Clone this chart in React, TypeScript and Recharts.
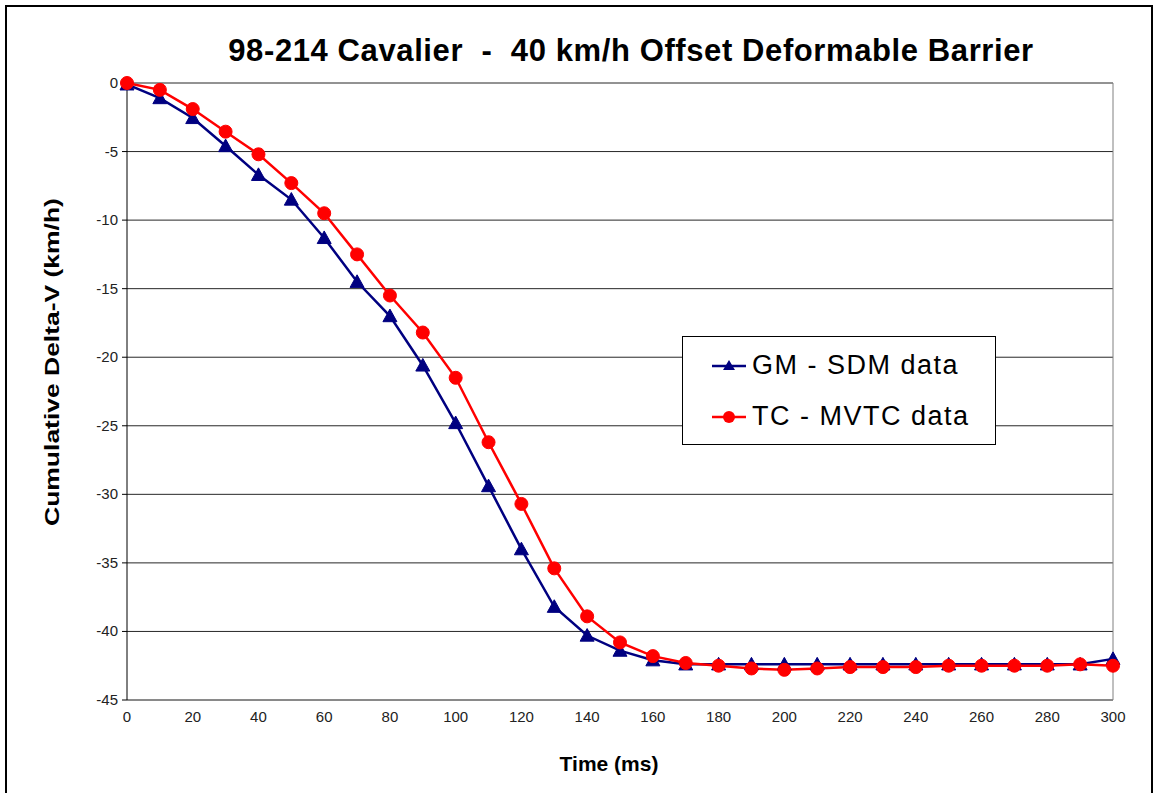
import React from 'react';
import { LineChart, Line, XAxis, YAxis, CartesianGrid, ReferenceLine } from 'recharts';

const times = [0,10,20,30,40,50,60,70,80,90,100,110,120,130,140,150,160,170,180,190,200,210,220,230,240,250,260,270,280,290,300];
const gmSdm = [-0.1,-1.1,-2.55,-4.6,-6.7,-8.5,-11.3,-14.5,-17.0,-20.6,-24.8,-29.4,-34.0,-38.2,-40.3,-41.4,-42.1,-42.4,-42.4,-42.4,-42.4,-42.4,-42.4,-42.4,-42.4,-42.4,-42.4,-42.4,-42.4,-42.4,-42.0];
const tcMvtc = [0,-0.5,-1.9,-3.55,-5.2,-7.3,-9.5,-12.5,-15.5,-18.2,-21.5,-26.2,-30.7,-35.4,-38.9,-40.8,-41.8,-42.3,-42.5,-42.7,-42.8,-42.7,-42.6,-42.6,-42.6,-42.5,-42.5,-42.5,-42.5,-42.4,-42.5];
const xTicks = [0,20,40,60,80,100,120,140,160,180,200,220,240,260,280,300];
const yTicks = [0,-5,-10,-15,-20,-25,-30,-35,-40,-45];

const data = times.map((t, i) => ({ t, gm: gmSdm[i], tc: tcMvtc[i] }));

const Triangle = (props: any) => {
  const { cx, cy } = props;
  if (cx == null || cy == null) return null;
  const s = 7;
  return <path d={`M${cx},${cy - s} L${cx + s},${cy + s * 0.8} L${cx - s},${cy + s * 0.8} Z`} fill="#000080" stroke="#000080" />;
};

const font = 'Arial, "Liberation Sans", sans-serif';

const XTick = (props: any) => {
  const { x, y, payload } = props;
  return (
    <text x={x} y={y + 14} textAnchor="middle" fill="#222" fontSize={15} fontFamily={font}>{payload.value}</text>
  );
};

const YTick = (props: any) => {
  const { x, y, payload } = props;
  return (
    <text x={x - 2} y={y + 5} textAnchor="end" fill="#222" fontSize={15} fontFamily={font}>{payload.value}</text>
  );
};

export default function App() {
  return (
    <div style={{ position: 'absolute', left: 0, top: 0, width: 1157, height: 793, background: '#fff', fontFamily: font, overflow: 'hidden' }}>
      <div style={{ position: 'absolute', left: 5, top: 5, width: 1148, height: 800, border: '2px solid #000', boxSizing: 'border-box' }} />
      <div style={{ position: 'absolute', left: 0, width: 1262, top: 33, textAlign: 'center', fontSize: 31, letterSpacing: 0.6, fontWeight: 'bold', color: '#000', whiteSpace: 'nowrap' }}>
        98-214 Cavalier&nbsp; -&nbsp; 40 km/h Offset Deformable Barrier
      </div>
      <div style={{ position: 'absolute', left: 52, top: 362, width: 0, height: 0 }}>
        <div style={{ position: 'absolute', left: 0, top: 0, transform: 'translate(-50%, -50%) rotate(-90deg) scaleX(1.26)', whiteSpace: 'nowrap', fontSize: 21, fontWeight: 'bold', lineHeight: '24px' }}>
          Cumulative Delta-V (km/h)
        </div>
      </div>
      <div style={{ position: 'absolute', left: 0, width: 1218, top: 752, textAlign: 'center', fontSize: 21, fontWeight: 'bold', whiteSpace: 'nowrap' }}>
        Time (ms)
      </div>
      <div style={{ position: 'absolute', left: 0, top: 0 }}>
        <LineChart width={1157} height={793} data={data} margin={{ top: 83, right: 44, bottom: 63, left: 67 }}>
          <CartesianGrid vertical={false} horizontal={true} stroke="#000" strokeOpacity={0.85} />
          <XAxis dataKey="t" type="number" domain={[0, 300]} ticks={xTicks} tickLine={false} axisLine={{ stroke: '#808080' }} tick={<XTick />} height={30} interval={0} />
          <YAxis type="number" domain={[-45, 0]} ticks={yTicks} width={60} axisLine={{ stroke: '#000' }} tickLine={{ stroke: '#000' }} tickSize={5} tick={<YTick />} interval={0} />
          <ReferenceLine x={300} stroke="#808080" />
          <Line type="linear" dataKey="gm" stroke="#000080" strokeWidth={2.5} dot={<Triangle />} isAnimationActive={false} />
          <Line type="linear" dataKey="tc" stroke="#FF0000" strokeWidth={2.5} dot={{ r: 6.5, fill: '#FF0000', stroke: '#FF0000', strokeWidth: 1 }} isAnimationActive={false} />
        </LineChart>
      </div>
      <div style={{ position: 'absolute', left: 682, top: 336, width: 314, height: 109, border: '1px solid #000', boxSizing: 'border-box', background: '#fff' }}>
        <div style={{ position: 'absolute', left: 29, top: 13, display: 'flex', alignItems: 'center', fontSize: 27, letterSpacing: 1.5, whiteSpace: 'nowrap' }}>
          <svg width={34} height={20}><line x1={0} y1={10} x2={34} y2={10} stroke="#000080" strokeWidth={2.5} /><path d="M17,4 L23,14 L11,14 Z" fill="#000080" /></svg>
          <span style={{ marginLeft: 6 }}>GM - SDM data</span>
        </div>
        <div style={{ position: 'absolute', left: 29, top: 64, display: 'flex', alignItems: 'center', fontSize: 27, letterSpacing: 1.5, whiteSpace: 'nowrap' }}>
          <svg width={34} height={20}><line x1={0} y1={10} x2={34} y2={10} stroke="#FF0000" strokeWidth={2.5} /><circle cx={17} cy={10} r={6} fill="#FF0000" /></svg>
          <span style={{ marginLeft: 6 }}>TC - MVTC data</span>
        </div>
      </div>
    </div>
  );
}
